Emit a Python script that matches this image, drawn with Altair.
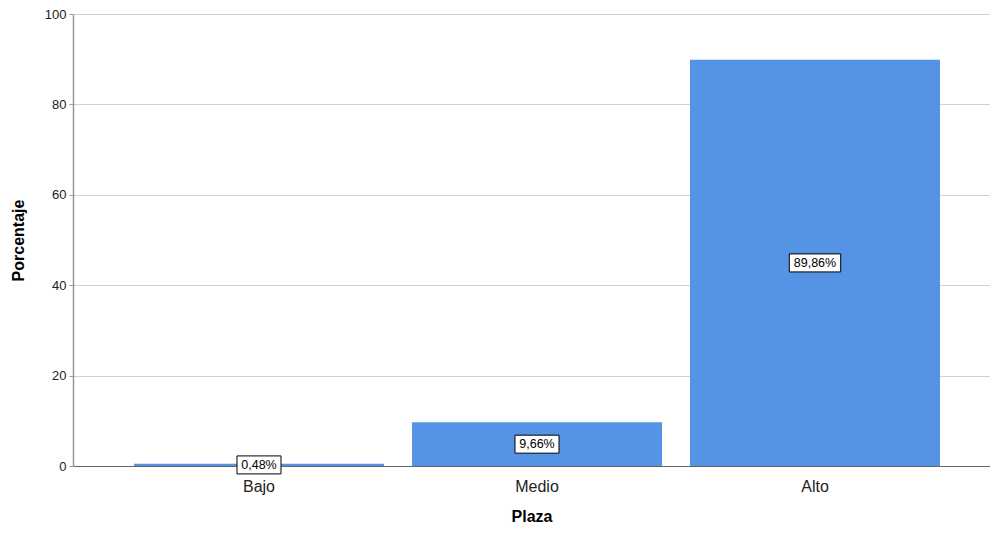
import altair as alt
import pandas as pd

categorias = ["Bajo", "Medio", "Alto"]
porcentajes = [0.48, 9.66, 89.86]
etiquetas = ["0,48%", "9,66%", "89,86%"]

df = pd.DataFrame({"Plaza": categorias, "Porcentaje": porcentajes, "Etiqueta": etiquetas})
df["mid"] = df["Porcentaje"] / 2
# box shape for label (width depends on text length, fixed height 18px)
def box(lbl):
    w = 7.4 * len(lbl) + 7
    h = 9.0 / (w / 2)
    return f"M-1,-{h:.4f}L1,-{h:.4f}L1,{h:.4f}L-1,{h:.4f}Z", w * w
df["path"] = [box(l)[0] for l in etiquetas]
df["bsize"] = [box(l)[1] for l in etiquetas]

FONT = "Liberation Sans"

xscale = alt.Scale(paddingInner=0.1007, paddingOuter=0.1996, align=0.5495)
x = alt.X("Plaza:N", sort=categorias, scale=xscale,
          axis=alt.Axis(title="Plaza", labelAngle=0, labelFontSize=16, labelFont=FONT,
                        labelColor="#222", tickSize=0, labelPadding=12,
                        titleFont=FONT, titleFontSize=16, titleFontWeight="bold",
                        titlePadding=14, domainColor="#666", domainWidth=1.2, grid=False))

bars = alt.Chart(df).mark_bar(color="#5594E4").encode(
    x=x,
    y=alt.Y("Porcentaje:Q", scale=alt.Scale(domain=[0, 100], nice=False),
            axis=alt.Axis(title="Porcentaje", values=[0, 20, 40, 60, 80, 100],
                          labelFontSize=13, labelFont=FONT, labelColor="#222",
                          tickSize=4, tickColor="#999", labelPadding=3,
                          titleFont=FONT, titleFontSize=16, titleFontWeight="bold",
                          titlePadding=18, domainColor="#999", domainWidth=1.5,
                          gridColor="#d0d0d0", gridWidth=1.2))
)

boxes = alt.Chart(df).mark_point(filled=True, fill="white", stroke="black",
                                 strokeWidth=1, opacity=1, fillOpacity=1).encode(
    x=alt.X("Plaza:N", sort=categorias),
    y=alt.Y("mid:Q"),
    shape=alt.Shape("path:N", scale=None),
    size=alt.Size("bsize:Q", scale=None),
)

texts = alt.Chart(df).mark_text(font=FONT, fontSize=12.5, color="black", baseline="middle").encode(
    x=alt.X("Plaza:N", sort=categorias),
    y=alt.Y("mid:Q"),
    text="Etiqueta:N",
)

chart = alt.layer(bars, boxes, texts).properties(
    width=917, height=452,
    autosize=alt.AutoSizeParams(type="none"),
    padding={"left": 73, "top": 14, "right": 0, "bottom": 70},
).configure_view(strokeWidth=0, stroke="transparent").configure(background="white")

chart.save("out.html", embed_options={"renderer": "svg", "actions": False})
